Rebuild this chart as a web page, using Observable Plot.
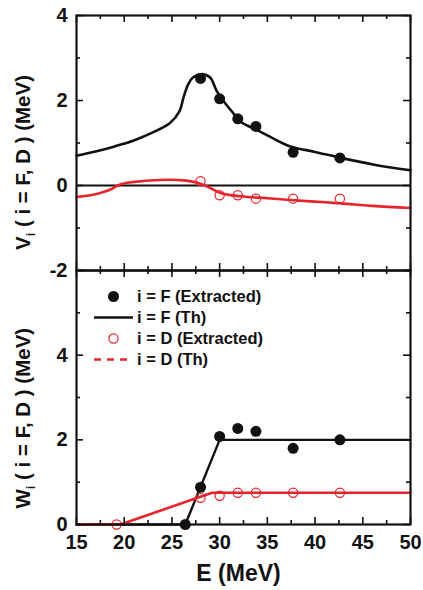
<!DOCTYPE html>
<html><head><meta charset="utf-8">
<script src="https://cdn.jsdelivr.net/npm/d3@7"></script>
<script src="https://cdn.jsdelivr.net/npm/@observablehq/plot@0.6"></script>
<style>
body{margin:0;background:#fff;}
#wrap{position:relative;width:423px;height:590px;font-family:"Liberation Sans",Arial,sans-serif;}
#wrap svg.plotsvg{position:absolute;left:0;}
#legend{position:absolute;left:90px;top:286px;font-weight:bold;font-size:16.5px;color:#111;}
#legend .row{height:21px;line-height:21px;white-space:nowrap;display:flex;align-items:center;}
#legend .row svg{width:45px;height:21px;flex:none;margin-right:2px;}
</style></head><body><div id="wrap"><div id="legend"></div></div>
<script>
// ---- data ----
const energyExtracted = [28.0, 30.0, 31.9, 33.8, 37.7, 42.6];
const vFExtracted = [2.52, 2.04, 1.57, 1.39, 0.78, 0.65];
const vDExtracted = [0.10, -0.23, -0.23, -0.31, -0.31, -0.31];

const vFThE = [15, 17, 19, 21, 23, 24.8, 25.8, 26.2, 26.7, 27.2, 28.1, 29.0, 29.7, 30.4, 31.4, 32.2, 33.0, 34.3, 35.5, 37.4, 40, 42.7, 46.2, 50];
const vFTh  = [0.70, 0.80, 0.92, 1.06, 1.25, 1.47, 1.75, 2.06, 2.38, 2.54, 2.62, 2.54, 2.22, 1.99, 1.71, 1.50, 1.40, 1.26, 1.12, 0.92, 0.79, 0.65, 0.49, 0.36];

const vDThE = [15, 17.1, 18.5, 19.5, 20.9, 23.7, 26.2, 27.9, 29.0, 30.0, 31.0, 32.5, 35, 37.4, 40, 42.7, 46, 50];
const vDTh  = [-0.27, -0.20, -0.10, 0.02, 0.08, 0.13, 0.12, 0.05, -0.06, -0.17, -0.22, -0.26, -0.30, -0.34, -0.38, -0.42, -0.48, -0.53];

const wFExtractedE = [26.4, 28.0, 30.0, 31.9, 33.8, 37.7, 42.6];
const wFExtracted  = [0.0, 0.88, 2.08, 2.27, 2.20, 1.80, 2.00];
const wDExtractedE = [19.2, 28.0, 30.0, 31.9, 33.8, 37.7, 42.6];
const wDExtracted  = [0.0, 0.63, 0.68, 0.75, 0.75, 0.75, 0.75];

const wFThE = [15, 26.4, 30.0, 50];
const wFTh  = [0, 0, 2.0, 2.0];
const wDThE = [15, 19.6, 29.2, 50];
const wDTh  = [0, 0, 0.75, 0.75];

const xMajor = [15, 20, 25, 30, 35, 40, 45, 50];
const xMinor = [17.5, 22.5, 27.5, 32.5, 37.5, 42.5, 47.5];
const vMajor = [-2, 0, 2, 4];
const vMinor = [-1, 1, 3];
const wMajor = [0, 2, 4, 6];
const wMinor = [1, 3, 5];
const wLabels = [0, 2, 4];

const legendLabels = ["i = F (Extracted)", "i = F (Th)", "i = D (Extracted)", "i = D (Th)"];

// ---- styling ----
const black = "#111";
const red = "#e8232b";
const W = 423, ML = 76, MR = 13;
const FW = W - ML - MR;

const pts = (xs, ys) => xs.map((x, i) => ({x, y: ys[i]}));

function ticks(yMaj, yMin, fh) {
  const maj = 7, min = 4, sw = 1.6;
  const o = {stroke: black, strokeWidth: sw};
  return [
    Plot.tickX(xMajor, {x: d => d, insetTop: fh - maj, ...o}),
    Plot.tickX(xMajor, {x: d => d, insetBottom: fh - maj, ...o}),
    Plot.tickX(xMinor, {x: d => d, insetTop: fh - min, ...o}),
    Plot.tickX(xMinor, {x: d => d, insetBottom: fh - min, ...o}),
    Plot.tickY(yMaj, {y: d => d, insetRight: FW - maj, ...o}),
    Plot.tickY(yMaj, {y: d => d, insetLeft: FW - maj, ...o}),
    Plot.tickY(yMin, {y: d => d, insetRight: FW - min, ...o}),
    Plot.tickY(yMin, {y: d => d, insetLeft: FW - min, ...o})
  ];
}

const common = {
  width: W, marginLeft: ML, marginRight: MR,
  style: {background: "transparent", overflow: "visible", fontFamily: "'Liberation Sans', Arial, sans-serif", color: black}
};

// Top panel (V)
const topPlot = Plot.plot({
  ...common,
  height: 272, marginTop: 15, marginBottom: 2,
  x: {domain: [15, 50], axis: null},
  y: {domain: [-2, 4]},
  marks: [
    Plot.ruleY([0], {stroke: black, strokeWidth: 2}),
    Plot.line(pts(vFThE, vFTh), {x: "x", y: "y", curve: "catmull-rom", stroke: black, strokeWidth: 2.6}),
    Plot.line(pts(vDThE, vDTh), {x: "x", y: "y", curve: "catmull-rom", stroke: red, strokeWidth: 2.6}),
    Plot.dot(pts(energyExtracted, vFExtracted), {x: "x", y: "y", r: 5.5, fill: black, stroke: "none"}),
    Plot.dot(pts(energyExtracted, vDExtracted), {x: "x", y: "y", r: 4.6, fill: "white", fillOpacity: 0, stroke: red, strokeWidth: 1.2}),
    ...ticks(vMajor, vMinor, 255),
    Plot.frame({stroke: black, strokeWidth: 2.2}),
    Plot.axisY({ticks: vMajor, tickSize: 0, tickPadding: 9, fontSize: 20, fontWeight: "bold", tickFormat: d => String(d), label: null}),
    Plot.text(["V_i ( i = F, D ) (MeV)"], {text: d => d, frameAnchor: "left", textAnchor: "start", rotate: -90, dx: -53, dy: 107, fontSize: 20.5, fontWeight: "bold", fill: black})
  ]
});

// Bottom panel (W)
const bottomPlot = Plot.plot({
  ...common,
  height: 330, marginTop: 10, marginBottom: 66,
  x: {domain: [15, 50], axis: null},
  y: {domain: [0, 6]},
  marks: [
    Plot.line(pts(wFThE, wFTh), {x: "x", y: "y", stroke: black, strokeWidth: 2.4}),
    Plot.line(pts(wDThE, wDTh), {x: "x", y: "y", stroke: red, strokeWidth: 2.6}),
    Plot.dot(pts(wFExtractedE, wFExtracted), {x: "x", y: "y", r: 5.5, fill: black, stroke: "none"}),
    Plot.dot(pts(wDExtractedE, wDExtracted), {x: "x", y: "y", r: 4.6, fill: "white", fillOpacity: 0, stroke: red, strokeWidth: 1.2}),
    ...ticks(wMajor, wMinor, 254),
    Plot.frame({stroke: black, strokeWidth: 2.2}),
    Plot.axisY({ticks: wLabels, tickSize: 0, tickPadding: 9, fontSize: 20, fontWeight: "bold", tickFormat: d => String(d), label: null}),
    Plot.axisX({ticks: xMajor, tickSize: 0, tickPadding: 10, fontSize: 20, fontWeight: "bold", tickFormat: d => String(d), label: null}),
    Plot.text(["W_i ( i = F, D ) (MeV)"], {text: d => d, frameAnchor: "left", textAnchor: "start", rotate: -90, dx: -53, dy: 111, fontSize: 20.5, fontWeight: "bold", fill: black}),
    Plot.text(["E (MeV)"], {text: d => d, frameAnchor: "bottom", dx: -5, dy: 56, fontSize: 23, fontWeight: "bold", fill: black})
  ]
});

function subscriptify(svg) {
  d3.select(svg).selectAll("text").each(function() {
    const t = this.textContent;
    const m = t.match(/^(\w)_(\w)(.*)$/);
    if (m) {
      const s = d3.select(this);
      s.text(null);
      s.append("tspan").text(m[1]);
      s.append("tspan").attr("font-size", "0.62em").attr("dy", "5").text(m[2]);
      s.append("tspan").attr("dy", "-5").text(m[3]);
    }
  });
}

const wrap = document.getElementById("wrap");
[topPlot, bottomPlot].forEach(s => { s.classList.add("plotsvg"); subscriptify(s); });
topPlot.style.top = "0px";
bottomPlot.style.top = "260px";
wrap.insertBefore(topPlot, wrap.firstChild);
wrap.insertBefore(bottomPlot, document.getElementById("legend"));

// Legend
const lg = d3.select("#legend");
const swatches = [
  g => g.append("circle").attr("cx", 23.5).attr("cy", 10.5).attr("r", 5.5).attr("fill", black),
  g => g.append("line").attr("x1", 4).attr("x2", 43).attr("y1", 10.5).attr("y2", 10.5).attr("stroke", black).attr("stroke-width", 2.4),
  g => g.append("circle").attr("cx", 23.5).attr("cy", 10.5).attr("r", 4.6).attr("fill", "none").attr("stroke", red).attr("stroke-width", 1.2),
  g => g.append("line").attr("x1", 4).attr("x2", 43).attr("y1", 10.5).attr("y2", 10.5).attr("stroke", red).attr("stroke-width", 2.4).attr("stroke-dasharray", "7,6")
];
legendLabels.forEach((lab, i) => {
  const row = lg.append("div").attr("class", "row");
  const sv = row.append("svg");
  swatches[i](sv);
  row.append("span").text(lab);
});
</script>
</body></html>
